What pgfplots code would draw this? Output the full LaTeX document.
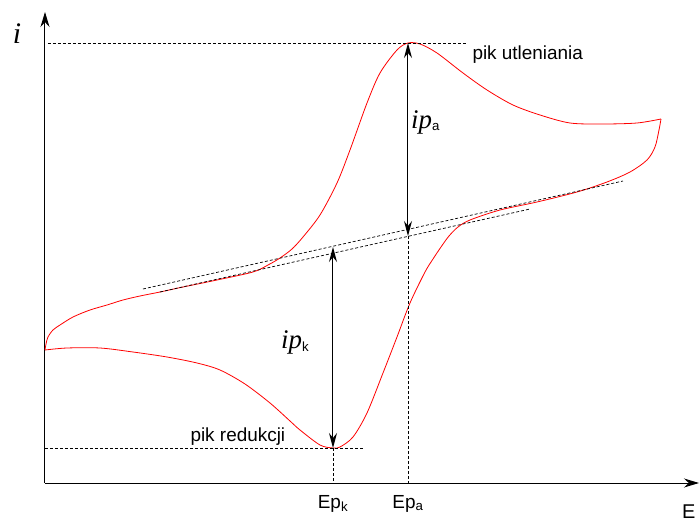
\documentclass[border=0pt]{standalone}
\usepackage{fontspec}
\setmainfont{Liberation Sans}
\newfontfamily\tnr{Liberation Serif}
\usepackage{pgfplots}
\pgfplotsset{compat=1.18}
\usetikzlibrary{arrows.meta}
\begin{document}
\begin{tikzpicture}
\useasboundingbox (-45bp,-38bp) rectangle (654bp,483bp);
\begin{axis}[
  x=1bp, y=1bp,
  xmin=45, xmax=699, ymin=38, ymax=509,
  axis lines=left,
  axis line style={line width=1bp, -{Stealth[length=15bp,width=9bp]}},
  xtick={333,408},
  xticklabels={Ep\textsubscript{k},Ep\textsubscript{a}},
  ytick=\empty,
  major tick length=0pt,
  xticklabel style={anchor=base, yshift=-25bp, font=\fontsize{19}{22}\selectfont},
  clip=false,
]
% forward scan
\addplot[red, line width=0.8bp, smooth, tension=0.5, no marks] coordinates {
(45,171) (46,177) (48,184) (53,191) (60,196) (73,204) (90,211) (107,216)
(123,221) (140,225) (160,229) (183,234) (217,241) (253,249) (268,256)
(280,263) (292,272) (303,284) (320,306) (337,338) (350,371) (367,418)
(380,448) (397,471) (408,478) (420,477) (437,468) (463,448) (487,431)
(513,416) (540,406) (570,398) (603,397) (637,398) (661,402)
};
% reverse scan
\addplot[red, line width=0.8bp, smooth, tension=0.5, no marks] coordinates {
(661,402) (659,391) (655,374) (647,361) (630,349) (607,339) (577,329)
(537,319) (500,311) (470,301) (458,294) (449,285) (441,274) (433,262)
(425,249) (410,218) (397,184) (383,148) (367,108) (353,84) (340,74) (333,73)
(320,76) (300,91) (290,100) (270,118) (245,137) (220,151) (197,158)
(167,164) (133,169) (100,173) (67,173) (45,171)
};
% dashed guide lines
\addplot[black, line width=0.7bp, dash pattern=on 3bp off 2bp, no marks] coordinates {(48,478) (468,478)};
\addplot[black, line width=0.7bp, dash pattern=on 3bp off 2bp, no marks] coordinates {(45,73) (365,73)};
\addplot[black, line width=0.7bp, dash pattern=on 3bp off 2bp, no marks] coordinates {(143,232) (623,340)};
\addplot[black, line width=0.7bp, dash pattern=on 3bp off 2bp, no marks] coordinates {(160,229) (530,312)};
\addplot[black, line width=0.7bp, dash pattern=on 3bp off 2bp, no marks] coordinates {(408,285) (408,38)};
\addplot[black, line width=0.7bp, dash pattern=on 3bp off 2bp, no marks] coordinates {(333,73) (333,38)};
% peak current arrows
\addplot[black, line width=1bp, {Stealth[length=15bp,width=8bp]}-{Stealth[length=15bp,width=8bp]}, no marks] coordinates {(408,478) (408,285)};
\addplot[black, line width=1bp, {Stealth[length=15bp,width=8bp]}-{Stealth[length=15bp,width=8bp]}, no marks] coordinates {(333,274) (333,73)};
% labels
\node[anchor=base west, font=\fontsize{19}{22}\selectfont] at (axis cs:469,461) {pik utleniania};
\node[anchor=base west, font=\fontsize{19}{22}\selectfont] at (axis cs:187,80) {pik redukcji};
\node[anchor=base west, font=\fontsize{19}{22}\selectfont, inner sep=0pt] at (axis cs:411,393) {{\tnr\itshape\fontsize{27}{30}\selectfont ip}\textsubscript{a}};
\node[anchor=base west, font=\fontsize{19}{22}\selectfont, inner sep=0pt] at (axis cs:281,173) {{\tnr\itshape\fontsize{27}{30}\selectfont ip}\textsubscript{k}};
\node[anchor=base west, font=\fontsize{20}{22}\selectfont, inner sep=0pt] at (axis cs:682,3) {E};
\node[font=\tnr\itshape\fontsize{30}{34}\selectfont] at (axis cs:17,487) {i};
\end{axis}
\end{tikzpicture}
\end{document}
